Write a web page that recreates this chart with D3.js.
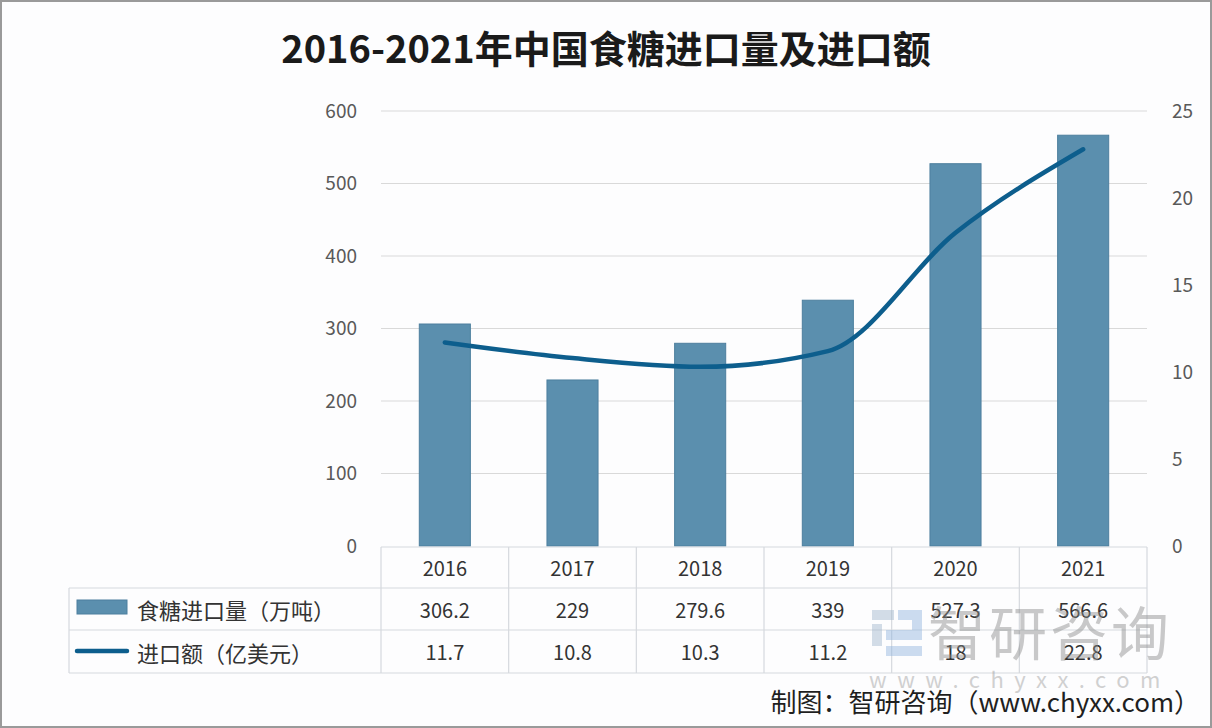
<!DOCTYPE html>
<html><head><meta charset="utf-8">
<script src="https://cdn.jsdelivr.net/npm/d3@7"></script>
<style>body{margin:0;background:#fff}svg{display:block}</style>
</head><body>
<script>
const years = ["2016","2017","2018","2019","2020","2021"];
const importVolume = [306.2, 229, 279.6, 339, 527.3, 566.6];
const importValue = [11.7, 10.8, 10.3, 11.2, 18, 22.8];
const leftTicks = [0,100,200,300,400,500,600];
const rightTicks = [0,5,10,15,20,25];
const seriesNames = ["食糖进口量（万吨）","进口额（亿美元）"];
const title = "2016-2021年中国食糖进口量及进口额";
const source = "制图：智研咨询（www.chyxx.com）";

const W=1212,H=728;
const svg=d3.select("body").append("svg").attr("width",W).attr("height",H);
const font="'Noto Sans CJK SC','Noto Sans',sans-serif";
svg.append("rect").attr("x",0).attr("y",0).attr("width",W).attr("height",H).attr("fill","#fdfdfe");
svg.append("rect").attr("x",1).attr("y",1).attr("width",W-2).attr("height",H-2).attr("fill","none").attr("stroke","#9a9a9a").attr("stroke-width",2);

svg.append("text").attr("x",606).attr("y",63).attr("text-anchor","middle")
  .attr("font-family",font).attr("font-weight","bold").attr("font-size",38).attr("fill","#1a1a1a").text(title);

const x=d3.scaleBand().domain(years).range([381,1147]).paddingInner(0.6).paddingOuter(0.3);
const yL=d3.scaleLinear().domain([0,600]).range([546,111]);
const yR=d3.scaleLinear().domain([0,25]).range([546,111]);

// gridlines
svg.append("g").selectAll("line").data(leftTicks.filter(d=>d>0)).join("line")
  .attr("x1",381).attr("x2",1147).attr("y1",d=>yL(d)).attr("y2",d=>yL(d))
  .attr("stroke","#d9d9d9").attr("stroke-width",1.2);

// axes
const axL=svg.append("g").attr("transform","translate(381,0)")
  .call(d3.axisLeft(yL).tickValues(leftTicks).tickSize(0).tickPadding(24));
const axR=svg.append("g").attr("transform","translate(1147,0)")
  .call(d3.axisRight(yR).tickValues(rightTicks).tickSize(0).tickPadding(25));
[axL,axR].forEach(a=>{a.select(".domain").remove();
  a.selectAll("text").attr("font-family",font).attr("font-size",19).attr("fill","#595959");});

// bars
svg.append("g").selectAll("rect").data(importVolume).join("rect")
  .attr("x",(d,i)=>x(years[i])).attr("width",x.bandwidth())
  .attr("y",d=>yL(d)).attr("height",d=>yL(0)-yL(d))
  .attr("fill","#5b8fae").attr("stroke","#4d7f9e").attr("stroke-width",1);

// line
const line=d3.line().x((d,i)=>x(years[i])+x.bandwidth()/2).y(d=>yR(d)).curve(d3.curveMonotoneX);
svg.append("path").attr("d",line(importValue)).attr("fill","none")
  .attr("stroke","#0d5e8d").attr("stroke-width",4.5).attr("stroke-linecap","round").attr("stroke-linejoin","round");

// data table
const tG=svg.append("g");
const gc="#d6d9de";
const rowY=[547,588,630,673];
const edges=years.map(y=>x(y)+x.bandwidth()/2-x.step()/2).concat([x(years[5])+x.bandwidth()/2+x.step()/2]);
tG.append("line").attr("x1",edges[0]).attr("x2",edges[6]).attr("y1",rowY[0]).attr("y2",rowY[0]).attr("stroke",gc).attr("stroke-width",1.2);
[1,2,3].forEach(r=>tG.append("line").attr("x1",69).attr("x2",edges[6]).attr("y1",rowY[r]).attr("y2",rowY[r]).attr("stroke",gc).attr("stroke-width",1.2));
edges.forEach(e=>tG.append("line").attr("x1",e).attr("x2",e).attr("y1",rowY[0]).attr("y2",rowY[3]).attr("stroke",gc).attr("stroke-width",1.2));
tG.append("line").attr("x1",69).attr("x2",69).attr("y1",rowY[1]).attr("y2",rowY[3]).attr("stroke",gc).attr("stroke-width",1.2);

const cellText=(xx,yy,t,anchor)=>tG.append("text").attr("x",xx).attr("y",yy).attr("text-anchor",anchor||"middle")
  .attr("dominant-baseline","central").attr("font-family",font).attr("font-size",20).attr("fill","#333").text(t);
years.forEach((y,i)=>{
  const cx=x(y)+x.bandwidth()/2;
  cellText(cx,(rowY[0]+rowY[1])/2,y);
  cellText(cx,(rowY[1]+rowY[2])/2,String(importVolume[i]));
  cellText(cx,(rowY[2]+rowY[3])/2,String(importValue[i]));
});
// legend keys
tG.append("rect").attr("x",77).attr("y",600).attr("width",50).attr("height",14).attr("fill","#5b8fae").attr("stroke","#4d7f9e");
tG.append("line").attr("x1",77).attr("x2",127).attr("y1",651).attr("y2",651).attr("stroke","#0d5e8d").attr("stroke-width",4.5).attr("stroke-linecap","round");
cellText(137,(rowY[1]+rowY[2])/2,seriesNames[0],"start").attr("font-size",22);
cellText(137,(rowY[2]+rowY[3])/2,seriesNames[1],"start").attr("font-size",22);

// watermark
const wm=svg.append("g").attr("opacity",0.45);
wm.append("rect").attr("x",872).attr("y",610).attr("width",22).attr("height",10).attr("fill","#9fb6cc");
wm.append("rect").attr("x",898).attr("y",610).attr("width",24).attr("height",10).attr("fill","#8fb4df");
wm.append("rect").attr("x",872).attr("y",624).attr("width",10).attr("height",22).attr("fill","#9fb6cc");
wm.append("rect").attr("x",886).attr("y",630).attr("width",36).attr("height",10).attr("fill","#8fb4df");
wm.append("rect").attr("x",886).attr("y",646).attr("width",36).attr("height",10).attr("fill","#8fb4df");
wm.append("rect").attr("x",912).attr("y",620).attr("width",10).attr("height",12).attr("fill","#8fb4df");
wm.append("text").attr("x",928).attr("y",655).attr("font-family",font).attr("font-size",58).attr("fill","#8a8a8a").attr("letter-spacing",3).text("智研咨询");
wm.append("text").attr("x",869).attr("y",688).attr("font-family",font).attr("font-size",22).attr("fill","#9a9a9a").attr("letter-spacing",10.5).text("www.chyxx.com");

svg.append("text").attr("x",1200).attr("y",712).attr("text-anchor","end").attr("font-family",font)
  .attr("font-size",26).attr("fill","#1f1f1f").text(source);
</script>
</body></html>
